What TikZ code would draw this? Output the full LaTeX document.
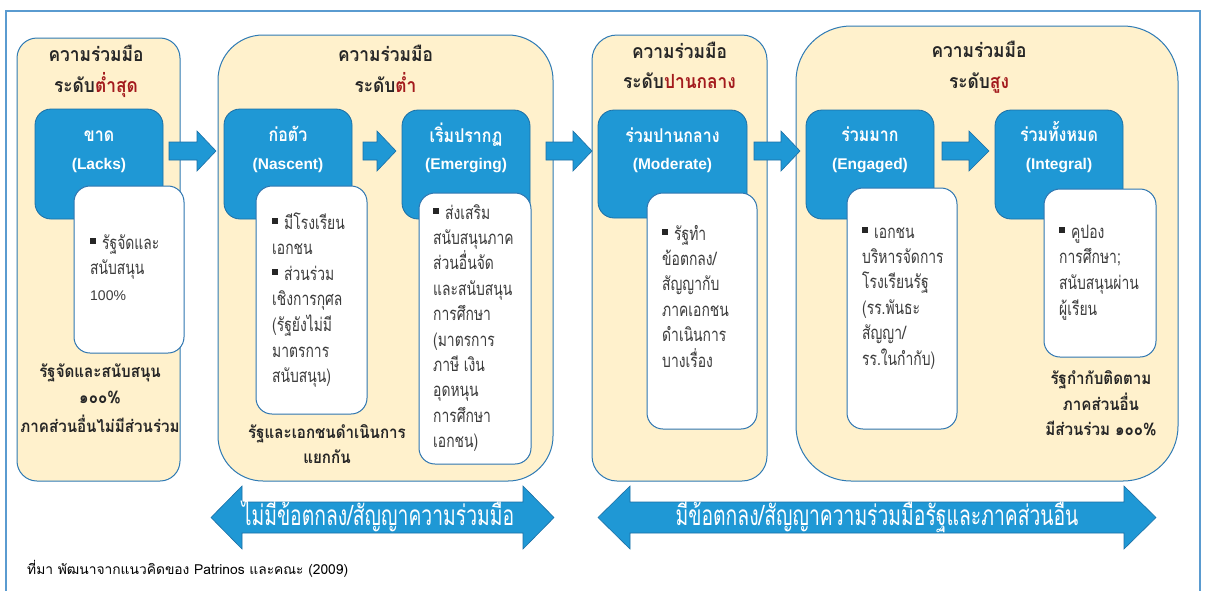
\documentclass[tikz,border=0pt]{standalone}
\usepackage{fontspec}
\setmainfont{Liberation Sans}
\newfontfamily\thf[Script=Thai]{Loma}
\newfontfamily\tht[Script=Thai,FakeStretch=0.89]{Loma}
\newfontfamily\thb[Script=Thai,FakeStretch=0.84]{Loma}
\newfontfamily\thn[Script=Thai,FakeStretch=0.75]{Loma}
\newfontfamily\thc[Script=Thai,FakeStretch=0.69]{Loma}
\definecolor{cream}{HTML}{FFF1CC}
\definecolor{gborder}{HTML}{2E7AB4}
\definecolor{bluefill}{HTML}{1F98D5}
\definecolor{blueedge}{HTML}{1B6FA5}
\definecolor{wedge}{HTML}{2E75B0}
\definecolor{darkred}{HTML}{A31A1D}
\definecolor{txt}{HTML}{3C3C3C}
\definecolor{ttl}{HTML}{262626}
\definecolor{framec}{HTML}{5A9BD0}
\newcommand\bul{{\color{ttl}\rule[5pt]{6pt}{6pt}}\hspace{6pt}}
\tikzset{
  grp/.style={draw=gborder, fill=cream, line width=1pt, inner sep=0pt},
  bbox/.style={draw=blueedge, fill=bluefill, line width=0.8pt, rounded corners=16pt, inner sep=0pt},
  wbox/.style={draw=wedge, fill=white, line width=1pt, rounded corners=16pt, inner sep=0pt},
  barrow/.style={draw=blueedge, fill=bluefill, line width=0.6pt},
  title/.style={font=\tht\bfseries\fontsize{19.5}{22}\selectfont, text=ttl, inner sep=0pt, anchor=base},
  bth/.style={font=\thb\bfseries\fontsize{19}{22}\selectfont, text=white, inner sep=0pt, anchor=base},
  ben/.style={font=\bfseries\fontsize{15.5}{18}\selectfont, text=white, inner sep=0pt, anchor=base},
  body/.style={font=\thn\fontsize{18.5}{22}\selectfont, text=txt, inner sep=0pt, anchor=base west},
  foot/.style={font=\tht\bfseries\fontsize{17}{22}\selectfont, text=ttl, inner sep=0pt, anchor=base},
  arrtxt/.style={font=\thc\fontsize{28}{30}\selectfont, text=white, inner sep=0pt, anchor=base},
  src/.style={font=\thf\fontsize{13.8}{16}\selectfont, text=black, inner sep=0pt, anchor=base west}
}
\begin{document}
\begin{tikzpicture}[x=1pt,y=-1pt]
\useasboundingbox (0,0) rectangle (1206,590);
\fill[white] (0,0) rectangle (1206,590);
\draw[framec, line width=1.3pt] (6,592) -- (6,11) -- (1200,11) -- (1200,592);
% groups
\node[grp, rounded corners=20pt, minimum width=163pt, minimum height=443pt] (g1) at (98.5,259.5) {};
\node[grp, rounded corners=45pt, minimum width=335pt, minimum height=446pt] (g2) at (385.5,258) {};
\node[grp, rounded corners=25pt, minimum width=175pt, minimum height=446pt] (g3) at (679.5,258) {};
\node[grp, rounded corners=55pt, minimum width=382pt, minimum height=455pt] (g4) at (987,253.5) {};
% right arrows
\draw[barrow] (169,142) -- (197,142) -- (197,131) -- (216,151) -- (197,171) -- (197,160) -- (169,160) -- cycle;
\draw[barrow] (363,142) -- (377,142) -- (377,131) -- (396,151) -- (377,171) -- (377,160) -- (363,160) -- cycle;
\draw[barrow] (546,142) -- (573,142) -- (573,131) -- (592,151) -- (573,171) -- (573,160) -- (546,160) -- cycle;
\draw[barrow] (754,142) -- (781,142) -- (781,131) -- (800,151) -- (781,171) -- (781,160) -- (754,160) -- cycle;
\draw[barrow] (942,142) -- (969,142) -- (969,131) -- (989,151) -- (969,171) -- (969,160) -- (942,160) -- cycle;
% blue boxes
\node[bbox, minimum width=128pt, minimum height=110pt] (b1) at (99,164) {};
\node[bbox, minimum width=128pt, minimum height=110pt] (b2) at (288,164) {};
\node[bbox, minimum width=128pt, minimum height=109pt] (b3) at (466,164.5) {};
\node[bbox, minimum width=149pt, minimum height=108pt] (b4) at (672.5,164) {};
\node[bbox, minimum width=128pt, minimum height=109pt] (b5) at (870,164.5) {};
\node[bbox, minimum width=128pt, minimum height=109pt] (b6) at (1059,164.5) {};
% white boxes
\node[wbox, minimum width=110pt, minimum height=167pt] (w1) at (129,269.5) {};
\node[wbox, minimum width=111pt, minimum height=228pt] (w2) at (311.5,300) {};
\node[wbox, minimum width=112pt, minimum height=271pt] (w3) at (475,328.5) {};
\node[wbox, minimum width=110pt, minimum height=236pt] (w4) at (702,311) {};
\node[wbox, minimum width=110pt, minimum height=241pt] (w5) at (902,308.5) {};
\node[wbox, minimum width=112pt, minimum height=168pt] (w6) at (1100,273) {};
% titles
\node[title] (t1a) at (96,61) {ความร่วมมือ};
\node[title] (t1b) at (96,92) {ระดับ{\color{darkred}ต่ำสุด}};
\node[title] (t2a) at (385.5,61) {ความร่วมมือ};
\node[title] (t2b) at (385.5,92) {ระดับ{\color{darkred}ต่ำ}};
\node[title] (t3a) at (679.5,58) {ความร่วมมือ};
\node[title] (t3b) at (679.5,88) {ระดับ{\color{darkred}ปานกลาง}};
\node[title] (t4a) at (979,57) {ความร่วมมือ};
\node[title] (t4b) at (979,88) {ระดับ{\color{darkred}สูง}};
% blue box labels
\node[bth] (b1t) at (99,141) {ขาด};
\node[ben] (b1e) at (99,169.5) {(Lacks)};
\node[bth] (b2t) at (288,141) {ก่อตัว};
\node[ben] (b2e) at (288,169.5) {(Nascent)};
\node[bth] (b3t) at (466,142) {เริ่มปรากฏ};
\node[ben] (b3e) at (466,169.5) {(Emerging)};
\node[bth] (b4t) at (672.5,142) {ร่วมปานกลาง};
\node[ben] (b4e) at (672.5,169.5) {(Moderate)};
\node[bth] (b5t) at (870,141) {ร่วมมาก};
\node[ben] (b5e) at (870,169.5) {(Engaged)};
\node[bth] (b6t) at (1059,141) {ร่วมทั้งหมด};
\node[ben] (b6e) at (1059,169.5) {(Integral)};
% white box texts
\foreach \linetxt [count=\i from 0] in {{\bul รัฐจัดและ},{สนับสนุน},{{\rmfamily\fontsize{14}{16}\selectfont 100\%}}}
  \node[body] (w1l\i) at (90,{249+25.5*\i}) {\linetxt};
\foreach \linetxt [count=\i from 0] in {{\bul มีโรงเรียน},{เอกชน},{\bul ส่วนร่วม},{เชิงการกุศล},{(รัฐยังไม่มี},{มาตรการ},{สนับสนุน)}}
  \node[body] (w2l\i) at (272,{229+25.6*\i}) {\linetxt};
\foreach \linetxt [count=\i from 0] in {{\bul ส่งเสริม},{สนับสนุนภาค},{ส่วนอื่นจัด},{และสนับสนุน},{การศึกษา},{(มาตรการ},{ภาษี เงิน},{อุดหนุน},{การศึกษา},{เอกชน)}}
  \node[body] (w3l\i) at (433,{219+25.4*\i}) {\linetxt};
\foreach \linetxt [count=\i from 0] in {{\bul รัฐทำ},{ข้อตกลง/},{สัญญากับ},{ภาคเอกชน},{ดำเนินการ},{บางเรื่อง}}
  \node[body] (w4l\i) at (662,{240+25.4*\i}) {\linetxt};
\foreach \linetxt [count=\i from 0] in {{\bul เอกชน},{บริหารจัดการ},{โรงเรียนรัฐ},{(รร.พันธะ},{สัญญา/},{รร.ในกำกับ)}}
  \node[body] (w5l\i) at (862,{238+25.4*\i}) {\linetxt};
\foreach \linetxt [count=\i from 0] in {{\bul คูปอง},{การศึกษา;},{สนับสนุนผ่าน},{ผู้เรียน}}
  \node[body] (w6l\i) at (1059,{238+25.8*\i}) {\linetxt};
% bottom texts of groups
\node[foot] (f1a) at (100,377) {รัฐจัดและสนับสนุน};
\node[foot] (f1b) at (100,403) {๑๐๐\%};
\node[foot] (f1c) at (100,432) {ภาคส่วนอื่นไม่มีส่วนร่วม};
\node[foot] (f2a) at (327,438) {รัฐและเอกชนดำเนินการ};
\node[foot] (f2b) at (327,463) {แยกกัน};
\node[foot] (f4a) at (1101,384) {รัฐกำกับติดตาม};
\node[foot] (f4b) at (1101,410) {ภาคส่วนอื่น};
\node[foot] (f4c) at (1101,435) {มีส่วนร่วม ๑๐๐\%};
% double arrows
\draw[barrow] (211,517.5) -- (242,486) -- (242,502) -- (523,502) -- (523,486) -- (554,517.5) -- (523,549) -- (523,533) -- (242,533) -- (242,549) -- cycle;
\draw[barrow] (598,517.5) -- (630,486) -- (630,502) -- (1124,502) -- (1124,486) -- (1156,517.5) -- (1124,549) -- (1124,533) -- (630,533) -- (630,549) -- cycle;
\node[arrtxt] (d1t) at (378,525) {ไม่มีข้อตกลง/สัญญาความร่วมมือ};
\node[arrtxt] (d2t) at (877,525) {มีข้อตกลง/สัญญาความร่วมมือรัฐและภาคส่วนอื่น};
% source
\node[src] (srcline) at (27,574) {ที่มา พัฒนาจากแนวคิดของ Patrinos และคณะ (2009)};
\end{tikzpicture}
\end{document}
